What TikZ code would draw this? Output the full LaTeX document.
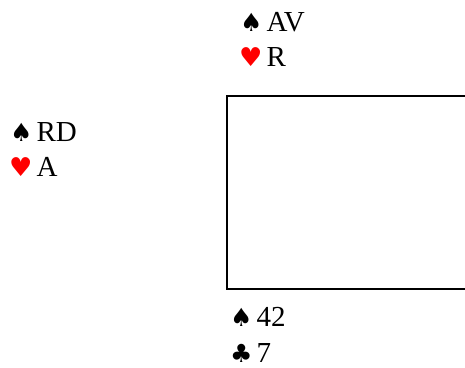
\documentclass[tikz,border=0pt]{standalone}
\usepackage{fontspec}
\setmainfont{Liberation Serif}
\newfontfamily\suitfont{DejaVu Sans}
\newcommand{\SpadeS}{{\suitfont\fontsize{25}{25}\selectfont ♠}\hspace{4pt}}
\newcommand{\HeartS}{{\suitfont\fontsize{26}{26}\selectfont\color{red}♥}\hspace{4pt}}
\newcommand{\ClubS}{{\suitfont\fontsize{25}{25}\selectfont ♣}\hspace{4pt}}
\begin{document}
\begin{tikzpicture}[x=1pt,y=-1pt,
  hand/.style={anchor=base west,inner sep=0pt,font=\fontsize{29}{29}\selectfont}]
\useasboundingbox (0,0) rectangle (465,367);
\begin{scope}
\clip (0,0) rectangle (465,367);
\draw[line width=1.6pt] (227,96) coordinate (tl) rectangle (480,289) coordinate (br);
\end{scope}
\node[hand] (n1) at (240,31) {\SpadeS AV};
\node[hand] (n2) at (239,66) {\HeartS R};
\node[hand] (w1) at (10,141) {\SpadeS RD};
\node[hand] (w2) at (9,176) {\HeartS A};
\node[hand] (s1) at (230,326) {\SpadeS 42};
\node[hand] (s2) at (230,362) {\ClubS 7};
\end{tikzpicture}
\end{document}
